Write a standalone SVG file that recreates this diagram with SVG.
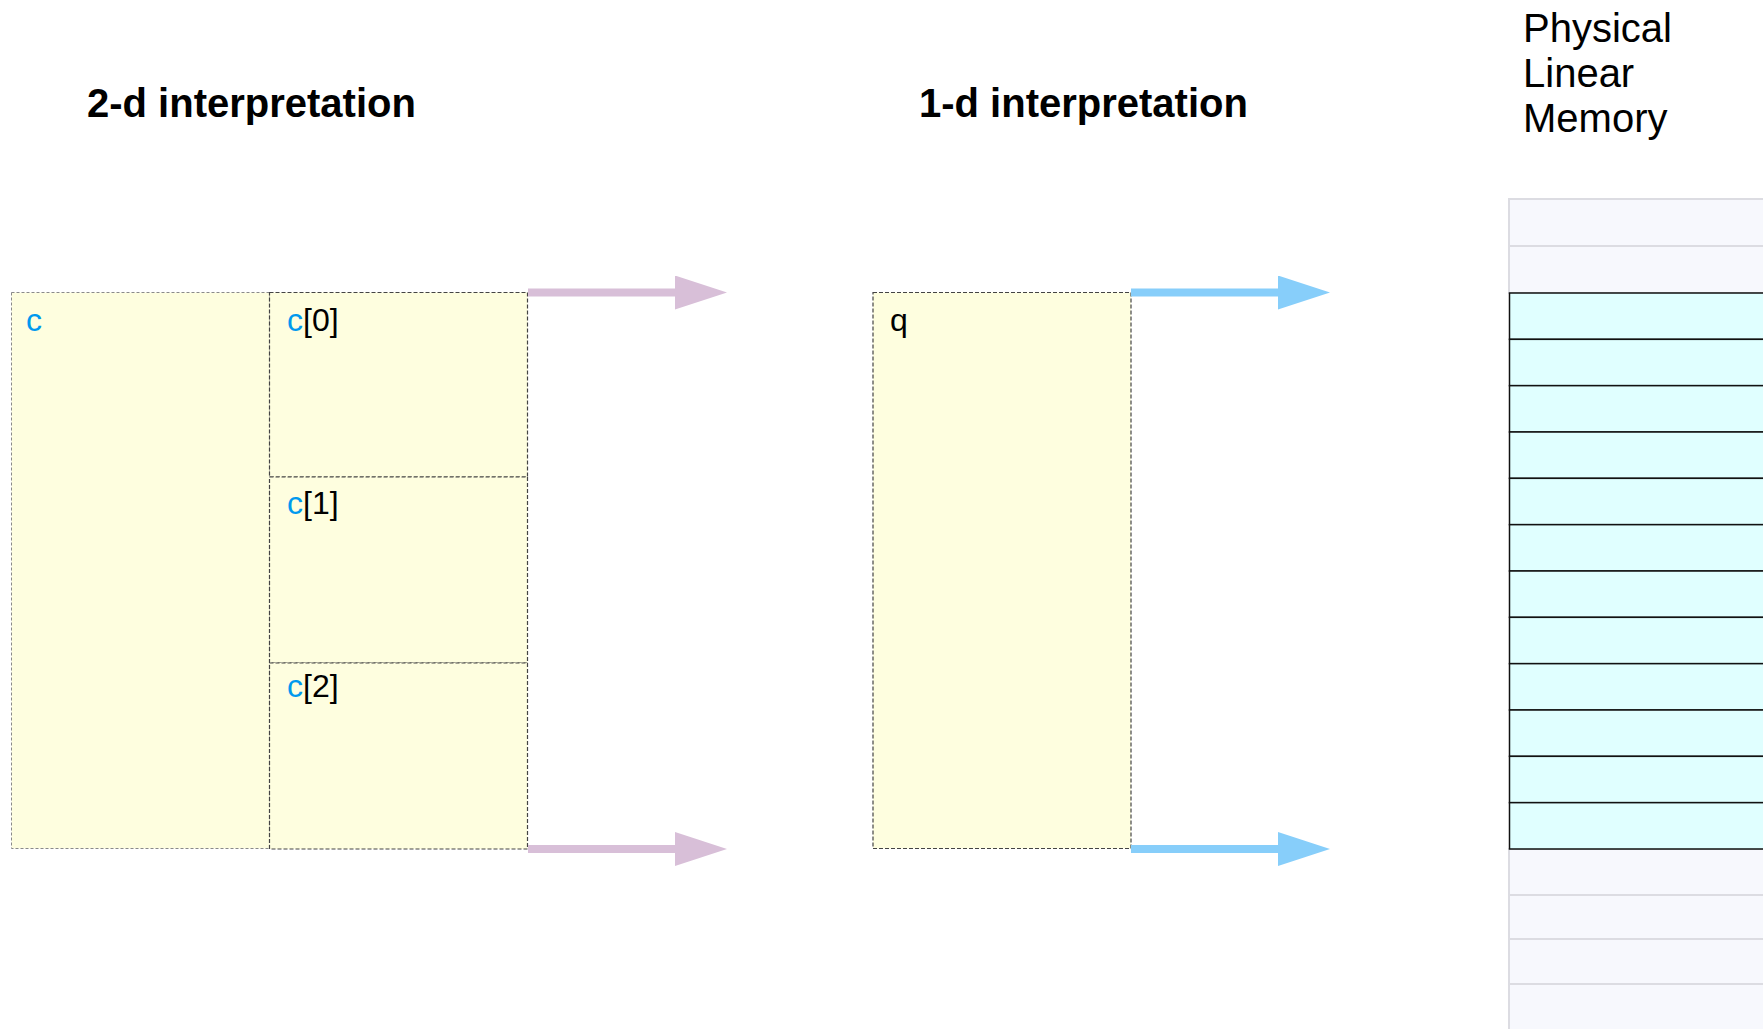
<svg xmlns="http://www.w3.org/2000/svg" width="1763" height="1029" viewBox="0 0 1763 1029">
  <style>
    .title { font-family: "Liberation Sans", Arial, sans-serif; font-size: 40px; font-weight: bold; fill: #000; }
    .phys { font-family: "Liberation Sans", Arial, sans-serif; font-size: 40px; fill: #000; }
    .lbl { font-family: "Liberation Sans", Arial, sans-serif; font-size: 32px; fill: #000; }
    .blue { fill: #0099ee; }
    .outer { fill: #fefedf; stroke: #8a8a8a; stroke-width: 1; stroke-dasharray: 3 2; }
    .cell { fill: #fefedf; stroke: #444; stroke-width: 1.2; stroke-dasharray: 4 2; }
    .mem-empty { fill: #f7f8fd; stroke: #dcdce2; stroke-width: 2; }
    .mem-used { fill: #e0ffff; stroke: #111; stroke-width: 1.5; }
    .pink { stroke: #d8bfd8; stroke-width: 8; fill: none; }
    .sky { stroke: #87cefa; stroke-width: 8; fill: none; }
  </style>
  <defs>
    <marker id="headPink" markerUnits="userSpaceOnUse" markerWidth="54" markerHeight="36" refX="1" refY="17" orient="auto">
      <path d="M0,0 L52,17 L0,34 Z" fill="#d8bfd8"/>
    </marker>
    <marker id="headSky" markerUnits="userSpaceOnUse" markerWidth="54" markerHeight="36" refX="1" refY="17" orient="auto">
      <path d="M0,0 L52,17 L0,34 Z" fill="#87cefa"/>
    </marker>
  </defs>

  <rect x="0" y="0" width="1763" height="1029" fill="#ffffff"/>

  <g id="titles">
    <text class="title" x="87" y="117">2-d interpretation</text>
    <text class="title" x="919" y="117">1-d interpretation</text>
    <text class="phys" x="1523" y="42">Physical</text>
    <text class="phys" x="1523" y="87">Linear</text>
    <text class="phys" x="1523" y="132">Memory</text>
  </g>

  <g id="node-c">
    <rect class="outer" x="11.5" y="292.5" width="258" height="556"/>
    <text class="lbl blue" x="26" y="331">c</text>
  </g>
  <g id="node-c0">
    <rect class="cell" x="269.5" y="292.5" width="258" height="184.5"/>
    <text class="lbl" x="287" y="331"><tspan class="blue">c</tspan>[0]</text>
  </g>
  <g id="node-c1">
    <rect class="cell" x="269.5" y="477" width="258" height="186"/>
    <text class="lbl" x="287" y="514"><tspan class="blue">c</tspan>[1]</text>
  </g>
  <g id="node-c2">
    <rect class="cell" x="269.5" y="663" width="258" height="186"/>
    <text class="lbl" x="287" y="697"><tspan class="blue">c</tspan>[2]</text>
  </g>

  <g id="node-q">
    <rect class="cell" x="873" y="292.5" width="258" height="556"/>
    <text class="lbl" x="890" y="331">q</text>
  </g>

  <g id="node-memory">
    <rect class="mem-empty" x="1509" y="199" width="260" height="47"/>
    <rect class="mem-empty" x="1509" y="246" width="260" height="47"/>
    <rect class="mem-empty" x="1509" y="849" width="260" height="46"/>
    <rect class="mem-empty" x="1509" y="895" width="260" height="44"/>
    <rect class="mem-empty" x="1509" y="939" width="260" height="45"/>
    <rect class="mem-empty" x="1509" y="984" width="260" height="50"/>
    <rect class="mem-used" x="1509.5" y="293" width="260" height="46.33"/>
    <rect class="mem-used" x="1509.5" y="339.33" width="260" height="46.33"/>
    <rect class="mem-used" x="1509.5" y="385.67" width="260" height="46.33"/>
    <rect class="mem-used" x="1509.5" y="432" width="260" height="46.33"/>
    <rect class="mem-used" x="1509.5" y="478.33" width="260" height="46.33"/>
    <rect class="mem-used" x="1509.5" y="524.67" width="260" height="46.33"/>
    <rect class="mem-used" x="1509.5" y="571" width="260" height="46.33"/>
    <rect class="mem-used" x="1509.5" y="617.33" width="260" height="46.33"/>
    <rect class="mem-used" x="1509.5" y="663.67" width="260" height="46.33"/>
    <rect class="mem-used" x="1509.5" y="710" width="260" height="46.33"/>
    <rect class="mem-used" x="1509.5" y="756.33" width="260" height="46.33"/>
    <rect class="mem-used" x="1509.5" y="802.67" width="260" height="46.33"/>
  </g>

  <g id="connectors">
    <line class="pink" x1="528" y1="292.5" x2="676" y2="292.5" marker-end="url(#headPink)"/>
    <line class="pink" x1="528" y1="849" x2="676" y2="849" marker-end="url(#headPink)"/>
    <line class="sky" x1="1131" y1="292.5" x2="1279" y2="292.5" marker-end="url(#headSky)"/>
    <line class="sky" x1="1131" y1="849" x2="1279" y2="849" marker-end="url(#headSky)"/>
  </g>
</svg>
